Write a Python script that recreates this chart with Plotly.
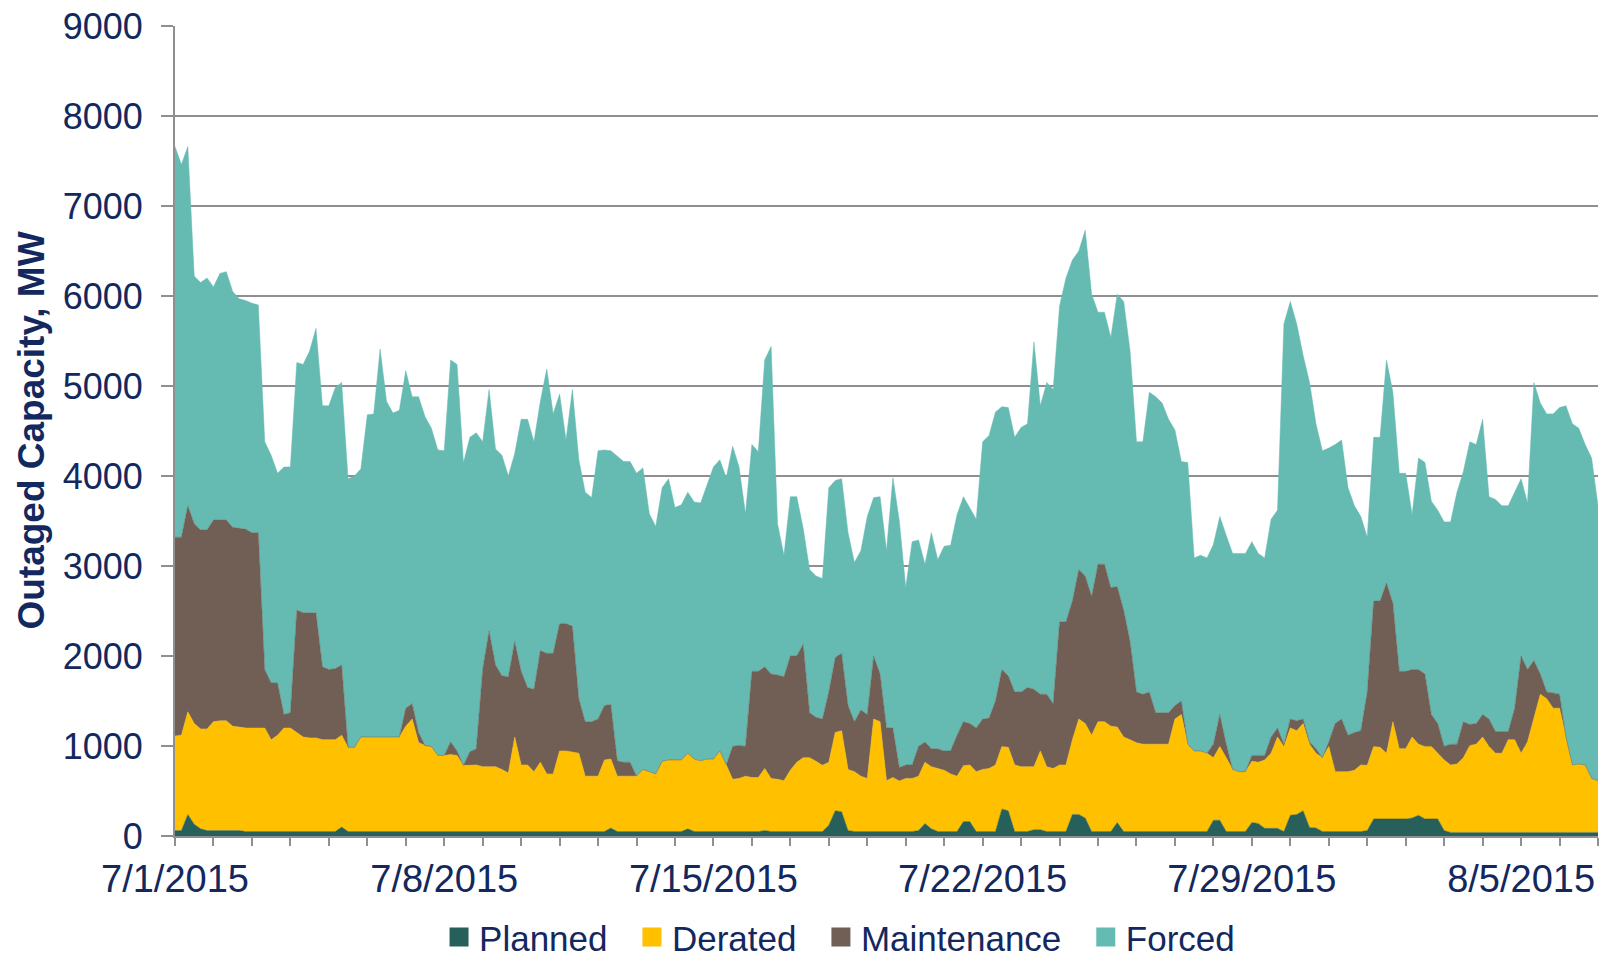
import pandas as pd
import plotly.graph_objects as go

# 4-hourly time grid, 7/1/2015 00:00 -> 8/7/2015 00:00
times = pd.date_range("2015-07-01", periods=223, freq="4h")

planned = [60,60,240,130,80,60,60,60,60,60,
           60,50,50,50,50,50,50,50,50,50,
           50,50,50,50,50,50,100,50,50,50,
           50,50,50,50,50,50,50,50,50,50,
           50,50,50,50,50,50,50,50,50,50,
           50,50,50,50,50,50,50,50,50,50,
           50,50,50,50,50,50,50,50,90,50,
           50,50,50,50,50,50,50,50,50,50,
           80,50,50,50,50,50,50,50,50,50,
           50,50,60,50,50,50,50,50,50,50,
           50,50,120,280,270,60,50,50,50,50,
           50,50,50,50,50,50,60,140,80,50,
           50,50,50,160,160,50,50,50,50,300,
           280,50,50,50,70,70,50,50,50,50,
           240,240,200,50,50,50,50,150,50,50,
           50,50,50,50,50,50,50,50,50,50,
           50,50,175,175,50,50,50,50,150,140,
           85,85,85,50,230,240,280,95,90,50,
           50,50,50,50,50,50,60,190,190,190,
           190,190,190,200,230,190,190,190,60,40,
           40,40,40,40,40,40,40,40,40,40,
           40,40,40,40,40,40,40,40,40,40,
           40,40,40]

derated = [1050,1060,1140,1120,1110,1130,1210,1220,1220,1160,
           1150,1150,1150,1150,1150,1020,1070,1150,1150,1100,
           1050,1040,1040,1020,1020,1020,1020,935,935,1050,
           1050,1050,1050,1050,1050,1050,1170,1250,990,955,
           945,845,845,855,845,735,735,740,720,720,
           720,690,650,1050,740,740,665,770,640,640,
           895,895,885,870,615,615,615,795,765,615,
           615,615,615,690,665,640,780,795,795,795,
           840,805,785,805,805,895,740,580,590,615,
           600,600,690,590,580,565,680,770,820,820,
           780,735,700,870,900,680,665,615,590,1250,
           1220,565,600,560,590,590,605,680,690,700,
           680,640,615,620,630,665,690,700,740,695,
           705,740,720,720,700,875,720,700,740,740,
           830,1060,1050,1070,1220,1220,1170,1060,1050,1020,
           985,970,970,970,970,970,1250,1300,970,895,
           895,870,695,820,820,690,665,665,680,680,
           760,835,1015,945,970,930,970,925,830,820,
           945,665,665,665,680,740,725,805,795,730,
           1080,780,780,900,790,805,805,730,785,750,
           760,830,965,980,1060,955,880,880,1030,1030,
           880,1005,1260,1535,1485,1380,1380,1060,750,760,
           750,600,575]

maintenance = [2210,2200,2290,2220,2210,2210,2240,2230,2230,2210,
               2210,2210,2170,2170,650,630,580,150,170,1360,
               1380,1390,1390,810,780,790,780,0,0,0,
               0,0,0,0,0,0,200,170,110,0,
               0,0,0,140,50,0,150,180,1080,1510,
               1130,1040,1070,1060,1040,860,915,1240,1340,1340,
               1415,1415,1395,605,605,605,635,605,605,170,
               155,155,0,0,0,0,0,0,0,0,
               0,0,0,0,0,0,0,365,365,330,
               1180,1180,1130,1160,1160,1155,1270,1180,1260,500,
               490,515,780,830,860,710,555,735,710,700,
               530,585,550,150,150,150,330,225,200,220,
               215,255,455,490,460,485,560,560,710,855,
               795,810,830,880,860,630,805,720,1590,1590,
               1540,1660,1640,1540,1750,1750,1540,1560,1410,1090,
               565,555,580,350,350,350,150,150,0,0,
               0,0,150,355,150,0,0,0,65,75,
               50,180,100,25,100,110,50,25,50,0,
               50,535,585,405,420,380,815,1615,1625,1890,
               1320,860,860,750,830,805,355,330,150,230,
               220,400,235,230,250,305,240,240,90,350,
               1080,805,650,225,75,170,155,0,0,0,
               0,0,0]

forced = [4340,4140,3990,2750,2750,2800,2590,2740,2760,2620,
          2550,2540,2550,2530,2530,2530,2330,2750,2730,2750,
          2760,2910,3160,2900,2930,3120,3140,2985,3015,2980,
          3580,3590,4310,3730,3600,3630,3750,3410,3730,3655,
          3535,3395,3385,4245,4295,3360,3495,3510,2530,2680,
          2400,2450,2230,2090,2800,2980,2750,2770,3160,2660,
          2550,2040,2630,2655,2550,2490,2980,2840,2820,3385,
          3340,3340,3365,3350,2865,2750,3040,3125,2805,2835,
          2900,2855,2865,3045,3245,3235,3190,3335,3095,2585,
          2520,2440,3410,3640,1680,1350,1770,1770,1290,1590,
          1570,1560,2270,1970,1940,1920,1770,1770,2200,1760,
          1970,1970,2780,2740,1970,2480,2295,1975,2400,2100,
          2275,2285,2450,2500,2400,2320,3080,3140,3210,2920,
          2980,2830,2940,2930,3860,3205,3465,3490,3510,3820,
          3790,3540,3840,3360,2800,2800,2780,3250,3430,3230,
          2780,2805,3330,3510,3440,3260,3060,2660,3130,2145,
          2175,2170,2220,2200,2320,2400,2425,2425,2375,2245,
          2195,2420,2420,4670,4640,4410,4040,3995,3610,3410,
          3265,3100,3100,2750,2520,2380,1720,1820,1820,2480,
          2340,2200,2200,1720,2350,2350,2370,2370,2495,2470,
          2800,2780,3140,3100,3280,2470,2580,2510,2510,2400,
          1970,1850,3090,3010,3090,3100,3185,3680,3790,3730,
          3560,3560,3055]

series_names = ["Planned", "Derated", "Maintenance", "Forced"]
series_colors = ["#27605A", "#FFC000", "#715F55", "#65BBB2"]
series_values = [planned, derated, maintenance, forced]

NAVY = "#13285E"
GRID = "#8E8E93"
FONT = "Liberation Sans, Arial, sans-serif"
PAD = "\u00a0\u00a0"  # spacing after legend labels

fig = go.Figure()
for name, color, vals in zip(series_names, series_colors, series_values):
    fig.add_trace(go.Scatter(
        x=times, y=vals, name=name, mode="lines", stackgroup="one",
        line=dict(width=0.5, color=color), fillcolor=color,
        showlegend=False, hoverinfo="x+y+name",
    ))
# legend entries as square swatches
for k, (name, color) in enumerate(zip(series_names, series_colors)):
    label = name + (PAD if k < len(series_names) - 1 else "")
    fig.add_trace(go.Scatter(
        x=[None], y=[None], mode="markers", name=label,
        marker=dict(symbol="square", size=16, color=color,
                    line=dict(width=3, color=color)),
    ))

fig.update_layout(
    width=1600, height=960,
    margin=dict(l=175, r=2, t=26, b=124, autoexpand=False),
    paper_bgcolor="white", plot_bgcolor="white",
    font=dict(family=FONT, color=NAVY),
    showlegend=True,
    legend=dict(
        orientation="h", x=0.467, xanchor="center", y=-0.125, yanchor="middle",
        font=dict(family=FONT, size=35, color=NAVY), traceorder="normal",
        itemsizing="trace", itemwidth=30, bgcolor="rgba(0,0,0,0)",
    ),
    xaxis=dict(
        type="date", range=["2015-07-01", "2015-08-07"],
        tick0="2015-07-01", dtick=7 * 86400000, tickformat="%-m/%-d/%Y",
        ticks="outside", ticklen=8, tickwidth=1.5, tickcolor=GRID,
        showline=True, linecolor=GRID, linewidth=2, showgrid=False, zeroline=False,
        tickfont=dict(family=FONT, size=38, color=NAVY), ticklabelstandoff=0,
        ticklabeloverflow="allow", automargin=False,
        minor=dict(dtick=86400000, tick0="2015-07-01", ticks="outside", ticklen=8,
                   tickwidth=1.5, tickcolor=GRID, showgrid=False),
    ),
    yaxis=dict(
        range=[0, 9000], dtick=1000, tick0=0,
        showgrid=True, gridcolor=GRID, gridwidth=1.5,
        showline=True, linecolor=GRID, linewidth=2, zeroline=False,
        ticks="outside", ticklen=12, tickwidth=1.5, tickcolor=GRID,
        tickfont=dict(family=FONT, size=36, color=NAVY), ticklabelstandoff=11,
        ticklabeloverflow="allow", automargin=False,
    ),
    annotations=[dict(
        text="<b>Outaged Capacity, MW</b>", textangle=-90,
        xref="paper", yref="paper", x=-0.1015, y=0.5,
        xanchor="center", yanchor="middle", showarrow=False,
        font=dict(family=FONT, size=37, color=NAVY),
    )],
)

# remove the default 8px page margin so the 1600x960 figure fills the window exactly
fig.write_html(
    "out.html",
    config={"displayModeBar": False},
    post_script="document.body.style.margin='0';document.body.style.overflow='hidden';",
)
